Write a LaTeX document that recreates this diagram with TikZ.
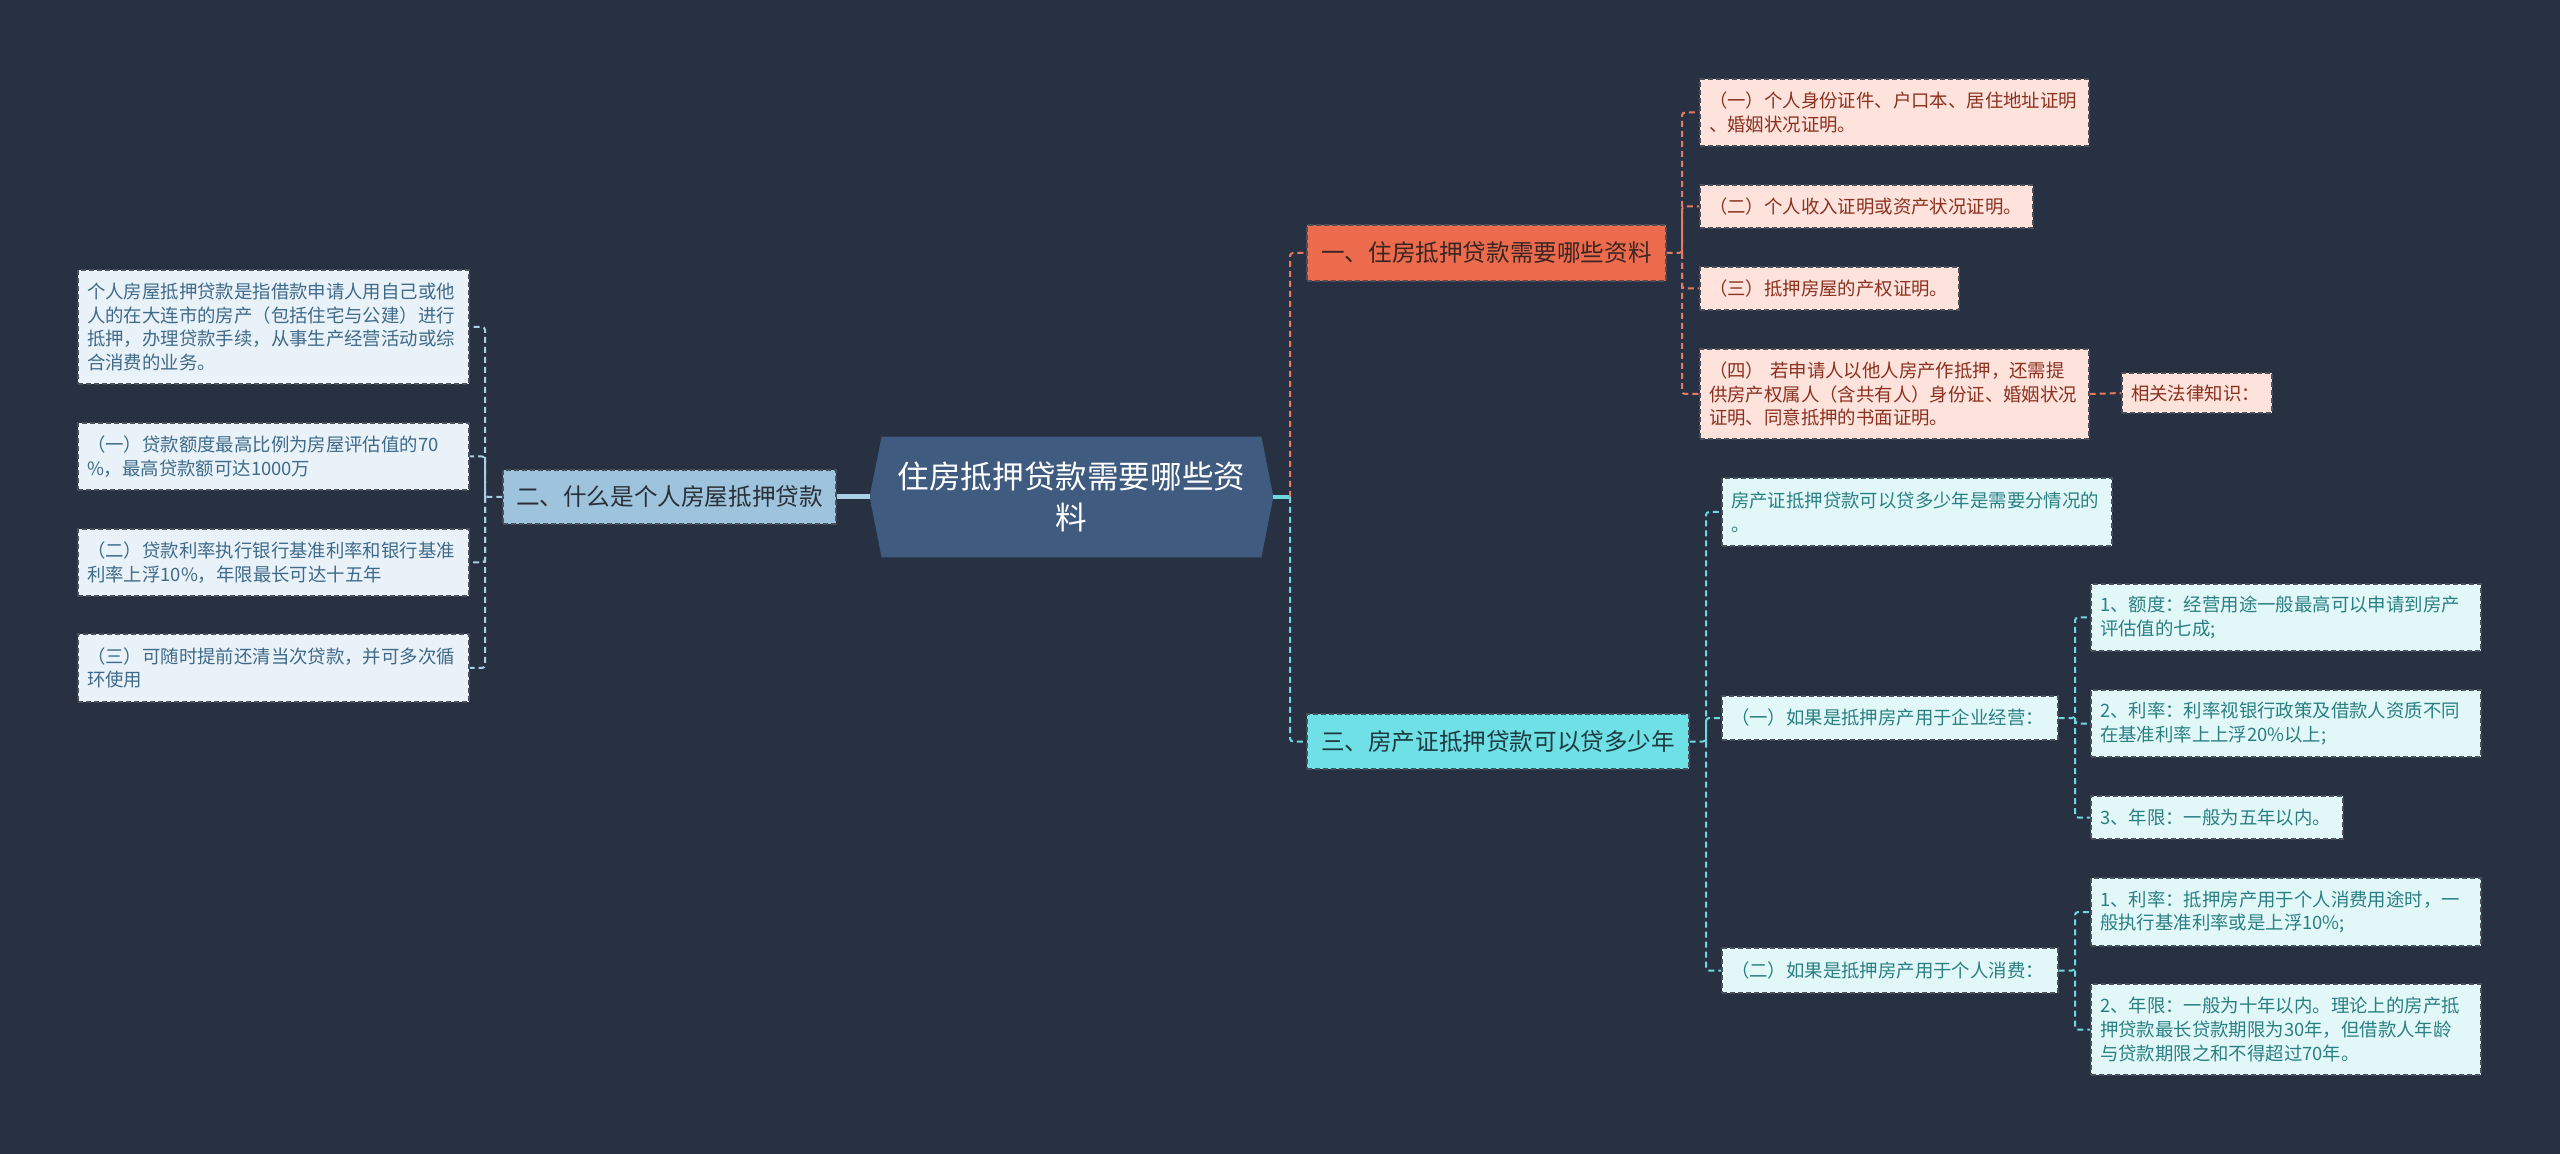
\documentclass[tikz,border=0pt]{standalone}
\usepackage{fontspec}
\setmainfont{Noto Sans CJK SC}
\usetikzlibrary{backgrounds}
\definecolor{bgc}{HTML}{283142}
\definecolor{rootfill}{HTML}{3F5B80}
\definecolor{ntwofill}{HTML}{9DC4DC}
\definecolor{ntwotext}{HTML}{2A2F38}
\definecolor{lfill}{HTML}{E9F2F8}
\definecolor{ltext}{HTML}{3F6A8A}
\definecolor{nonefill}{HTML}{EC6B4D}
\definecolor{nonetext}{HTML}{3B2522}
\definecolor{afill}{HTML}{FDE3DB}
\definecolor{atext}{HTML}{8C3020}
\definecolor{nthreefill}{HTML}{6EE0E6}
\definecolor{nthreetext}{HTML}{1D3A40}
\definecolor{bfill}{HTML}{E2F8F8}
\definecolor{btext}{HTML}{2A7F83}
\definecolor{conl}{HTML}{A8CFE2}
\definecolor{cona}{HTML}{E57A5F}
\definecolor{conb}{HTML}{6FD7E0}
\definecolor{bord}{HTML}{4A4F5A}
\tikzset{
  boxbase/.style={rectangle, draw=bord, dash pattern=on 2.5pt off 1.5pt, line width=0.6pt, inner xsep=4.5pt, inner ysep=0pt},
  leaffont/.style={font=\fontsize{9.2}{11.85}\selectfont},
  mainfont/.style={font=\fontsize{11.8}{14}\selectfont},
  lbox/.style={boxbase, leaffont, fill=lfill, text=ltext, align=left},
  abox/.style={boxbase, leaffont, fill=afill, text=atext, align=left},
  bbox/.style={boxbase, leaffont, fill=bfill, text=btext, align=left},
  mainbox/.style={boxbase, mainfont, align=center},
  conline/.style={line width=1pt, dash pattern=on 3pt off 2pt, rounded corners=1.5pt},
}
\begin{document}
\begin{tikzpicture}[x=0.5pt,y=-0.5pt]
\begin{pgfonlayer}{background}
\fill[bgc] (0,0) rectangle (2560,1154);
\end{pgfonlayer}
\useasboundingbox (0,0) rectangle (2560,1154);

% root
\node[minimum width=201.5pt, minimum height=60pt, inner sep=0pt, text=white, align=center,
      font=\fontsize{15.8}{20.5}\selectfont] (root) at (1071.5,497) {住房抵押贷款需要哪些资\\料};
\begin{pgfonlayer}{background}
\fill[rootfill] (root.west) -- ([xshift=6pt]root.north west) -- ([xshift=-6pt]root.north east)
  -- (root.east) -- ([xshift=-6pt]root.south east) -- ([xshift=6pt]root.south west) -- cycle;
\end{pgfonlayer}

% main branches
\node[mainbox, fill=ntwofill, text=ntwotext, minimum width=166.5pt, minimum height=27pt] (n2) at (669.5,497) {二、什么是个人房屋抵押贷款};
\node[mainbox, fill=nonefill, text=nonetext, minimum width=179.5pt, minimum height=28pt] (n1) at (1486.5,253) {一、住房抵押贷款需要哪些资料};
\node[mainbox, fill=nthreefill, text=nthreetext, minimum width=191pt, minimum height=27.5pt] (n3) at (1498,741.5) {三、房产证抵押贷款可以贷多少年};

% left leaves
\node[lbox, text width=186.5pt, minimum height=57pt] (L1) at (273.5,327) {个人房屋抵押贷款是指借款申请人用自己或他\\人的在大连市的房产（包括住宅与公建）进行\\抵押，办理贷款手续，从事生产经营活动或综\\合消费的业务。};
\node[lbox, text width=186.5pt, minimum height=33.5pt] (L2) at (273.5,456.5) {（一）贷款额度最高比例为房屋评估值的70\\\%，最高贷款额可达1000万};
\node[lbox, text width=186.5pt, minimum height=33.5pt] (L3) at (273.5,562.5) {（二）贷款利率执行银行基准利率和银行基准\\利率上浮10\%，年限最长可达十五年};
\node[lbox, text width=186.5pt, minimum height=34pt] (L4) at (273.5,668) {（三）可随时提前还清当次贷款，并可多次循\\环使用};

% branch one leaves
\node[abox, text width=185.5pt, minimum height=33.5pt] (A1) at (1894.5,112.5) {（一）个人身份证件、户口本、居住地址证明\\、婚姻状况证明。};
\node[abox, text width=157.5pt, minimum height=21.5pt] (A2) at (1866.5,206.5) {（二）个人收入证明或资产状况证明。};
\node[abox, text width=120.5pt, minimum height=21.5pt] (A3) at (1829.5,288.5) {（三）抵押房屋的产权证明。};
\node[abox, text width=185.5pt, minimum height=45pt] (A4) at (1894.5,394) {（四） 若申请人以他人房产作抵押，还需提\\供房产权属人（含共有人）身份证、婚姻状况\\证明、同意抵押的书面证明。};
\node[abox, text width=66pt, minimum height=20pt] (A5) at (2197,393) {相关法律知识：};

% branch three leaves
\node[bbox, text width=186pt, minimum height=34pt] (B1) at (1917,512) {房产证抵押贷款可以贷多少年是需要分情况的\\。};
\node[bbox, text width=159pt, minimum height=22pt] (B2) at (1890,718) {（一）如果是抵押房产用于企业经营：};
\node[bbox, text width=159pt, minimum height=22.5pt] (B3) at (1890,970.5) {（二）如果是抵押房产用于个人消费：};
\node[bbox, text width=186pt, minimum height=33.5pt] (C1) at (2286,617.5) {1、额度：经营用途一般最高可以申请到房产\\评估值的七成;};
\node[bbox, text width=186pt, minimum height=33.5pt] (C2) at (2286,723.5) {2、利率：利率视银行政策及借款人资质不同\\在基准利率上上浮20\%以上;};
\node[bbox, text width=117pt, minimum height=21.5pt] (C3) at (2217,817.5) {3、年限：一般为五年以内。};
\node[bbox, text width=186pt, minimum height=34pt] (D1) at (2286,912) {1、利率：抵押房产用于个人消费用途时，一\\般执行基准利率或是上浮10\%;};
\node[bbox, text width=186pt, minimum height=45.5pt] (D2) at (2286,1029.5) {2、年限：一般为十年以内。理论上的房产抵\\押贷款最长贷款期限为30年，但借款人年龄\\与贷款期限之和不得超过70年。};

% junctions
\coordinate (jl) at (485,497);
\coordinate (jr) at (1290,497);
\coordinate (j1) at (1682,253);
\coordinate (j3) at (1706,741.5);
\coordinate (jb2) at (2075,718);
\coordinate (jb3) at (2075,970.5);

\begin{pgfonlayer}{background}
% root connectors
\draw[conl, line width=2.5pt] (root.west) -- (n2.east);
\draw[conb, line width=2.2pt] (root.east) -- (jr);
\draw[cona, conline] (jr) |- (n1.west);
\draw[conb, conline] (jr) |- (n3.west);
% left
\draw[conl, conline] (n2.west) -- (jl) |- (L1.east);
\draw[conl, conline] (jl) |- (L2.east);
\draw[conl, conline] (jl) |- (L3.east);
\draw[conl, conline] (jl) |- (L4.east);
% branch one
\draw[cona, conline] (n1.east) -- (j1) |- (A1.west);
\draw[cona, conline] (j1) |- (A2.west);
\draw[cona, conline] (j1) |- (A3.west);
\draw[cona, conline] (j1) |- (A4.west);
\draw[cona, conline] (A4.east) -- (A5.west);
% branch three
\draw[conb, conline] (n3.east) -- (j3) |- (B1.west);
\draw[conb, conline] (j3) |- (B2.west);
\draw[conb, conline] (j3) |- (B3.west);
\draw[conb, conline] (B2.east) -- (jb2) |- (C1.west);
\draw[conb, conline] (jb2) |- (C2.west);
\draw[conb, conline] (jb2) |- (C3.west);
\draw[conb, conline] (B3.east) -- (jb3) |- (D1.west);
\draw[conb, conline] (jb3) |- (D2.west);
\end{pgfonlayer}
\end{tikzpicture}
\end{document}
